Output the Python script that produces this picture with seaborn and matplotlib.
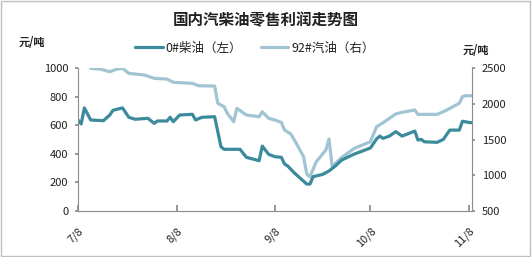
import matplotlib
matplotlib.use("Agg")
import matplotlib.pyplot as plt
import matplotlib.dates as mdates
from matplotlib.ticker import FuncFormatter
from matplotlib.lines import Line2D
from matplotlib.patches import Rectangle
import seaborn as sns
import pandas as pd

# ---------------- data ----------------
diesel_dates = ["07-08", "07-09", "07-10", "07-12", "07-16", "07-18", "07-19", "07-22",
                "07-24", "07-26", "07-30", "08-01", "08-02", "08-05", "08-06", "08-07",
                "08-09", "08-13", "08-14", "08-16", "08-20", "08-22", "08-23", "08-28",
                "08-30", "09-01", "09-03", "09-04", "09-06", "09-08", "09-10", "09-11",
                "09-12", "09-14", "09-16", "09-18", "09-19", "09-20", "09-23", "09-25",
                "09-27", "09-29", "10-03", "10-08", "10-10", "10-11", "10-12", "10-14",
                "10-16", "10-18", "10-22", "10-23", "10-24", "10-25", "10-29", "10-31",
                "11-02", "11-05", "11-06", "11-08", "11-09"]
diesel_vals = [637, 609, 722, 637, 632, 672, 705, 722,
               656, 642, 649, 613, 630, 630, 656, 625,
               672, 677, 637, 656, 660, 449, 431, 431,
               375, 363, 351, 454, 396, 379, 375, 328,
               314, 267, 227, 187, 187, 239, 255, 279,
               314, 356, 398, 440, 505, 524, 508, 524,
               555, 524, 559, 496, 501, 484, 480, 501,
               566, 566, 628, 620, 618]

gas_dates = ["07-12", "07-15", "07-18", "07-20", "07-22", "07-24", "07-29", "08-01",
             "08-05", "08-07", "08-13", "08-15", "08-20", "08-21", "08-23", "08-24",
             "08-26", "08-27", "08-30", "09-03", "09-04", "09-06", "09-08", "09-10",
             "09-11", "09-13", "09-15", "09-17", "09-18", "09-19", "09-21", "09-24",
             "09-25", "09-26", "09-29", "10-03", "10-08", "10-10", "10-12", "10-14",
             "10-16", "10-18", "10-22", "10-23", "10-29", "10-31", "11-03", "11-05",
             "11-06", "11-07", "11-09"]
gas_vals = [2500, 2489, 2452, 2485, 2500, 2429, 2405, 2359,
            2349, 2303, 2289, 2255, 2251, 2008, 1960, 1867,
            1750, 1938, 1844, 1820, 1890, 1797, 1773, 1740,
            1633, 1577, 1422, 1258, 1015, 977, 1188, 1352,
            1507, 1118, 1250, 1376, 1469, 1680, 1735, 1797,
            1858, 1882, 1914, 1853, 1853, 1890, 1960, 2008,
            2101, 2115, 2115]

tick_dates = ["07-08", "08-08", "09-08", "10-08", "11-08"]
year = "2020-"

diesel_df = pd.DataFrame({"date": pd.to_datetime([year + d for d in diesel_dates]),
                          "value": diesel_vals})
gas_df = pd.DataFrame({"date": pd.to_datetime([year + d for d in gas_dates]),
                       "value": gas_vals})

# ---------------- style ----------------
sns.set_theme(style="white")
plt.rcParams["font.family"] = ["Noto Sans CJK SC", "DejaVu Sans"]

c_diesel = "#3b8b9c"
c_gas = "#a0c4d2"
spine_c = "#8c8c8c"
txt_c = "#222222"

fig = plt.figure(figsize=(5.32, 2.57), dpi=100)
ax = fig.add_axes([78 / 532, 1 - 210.7 / 257, (472 - 78) / 532, (210.7 - 68.3) / 257])
ax2 = ax.twinx()

sns.lineplot(data=diesel_df, x="date", y="value", ax=ax, color=c_diesel, linewidth=2.3)
sns.lineplot(data=gas_df, x="date", y="value", ax=ax2, color=c_gas, linewidth=2.3)

ax.set_zorder(ax2.get_zorder() + 1)
ax.patch.set_visible(False)

ax.set_xlim(pd.Timestamp(year + "07-08"), pd.Timestamp(year + "11-09"))
ax.set_ylim(0, 1000)
ax2.set_ylim(500, 2500)
ax.set_yticks([0, 200, 400, 600, 800, 1000])
ax2.set_yticks([500, 1000, 1500, 2000, 2500])

ax.set_xticks(pd.to_datetime([year + d for d in tick_dates]))
ax.xaxis.set_major_formatter(FuncFormatter(
    lambda v, p: f"{mdates.num2date(v).month}/{mdates.num2date(v).day}"))

for a in (ax, ax2):
    a.set_xlabel("")
    a.set_ylabel("")
    a.grid(False)
    a.spines["top"].set_visible(False)
    for s in ("left", "right", "bottom"):
        a.spines[s].set_color(spine_c)
        a.spines[s].set_linewidth(0.8)
ax.spines["right"].set_visible(False)
ax2.spines["left"].set_visible(False)
ax2.spines["bottom"].set_visible(False)

ax.tick_params(axis="x", direction="in", length=4, color=spine_c, labelsize=8,
               pad=11, bottom=True, labelcolor=txt_c)
ax.tick_params(axis="y", direction="out", length=2, color=spine_c, labelsize=8,
               pad=5, left=True, labelcolor=txt_c)
ax2.tick_params(axis="y", direction="out", length=2, color=spine_c, labelsize=8,
                pad=5, right=True, labelcolor=txt_c)
for lab in ax.get_xticklabels():
    lab.set_rotation(45)
    lab.set_ha("right")
    lab.set_rotation_mode("anchor")

fig.text(0.5, 1 - 20 / 257, "国内汽柴油零售利润走势图", ha="center", va="center",
         fontsize=11.2, fontweight="bold", color=txt_c)
fig.text(32 / 532, 1 - 43 / 257, "元/吨", ha="center", va="center",
         fontsize=8, fontweight="bold", color=txt_c)
fig.text(476 / 532, 1 - 50 / 257, "元/吨", ha="center", va="center",
         fontsize=8, fontweight="bold", color=txt_c)

handles = [Line2D([0], [0], color=c_diesel, lw=2.3),
           Line2D([0], [0], color=c_gas, lw=2.3)]
fig.legend(handles, ["0#柴油（左）", "92#汽油（右）"], loc="center",
           bbox_to_anchor=(255 / 532, 1 - 48 / 257), ncol=2, frameon=False,
           fontsize=9, handlelength=2.2, handletextpad=0.25, columnspacing=1.5,
           labelcolor=txt_c)

fig.add_artist(Rectangle((0.002, 0.004), 0.995, 0.992, transform=fig.transFigure,
                         fill=False, edgecolor="#bfbfbf", linewidth=1))

fig.savefig("out.png", dpi=100, facecolor="white")
